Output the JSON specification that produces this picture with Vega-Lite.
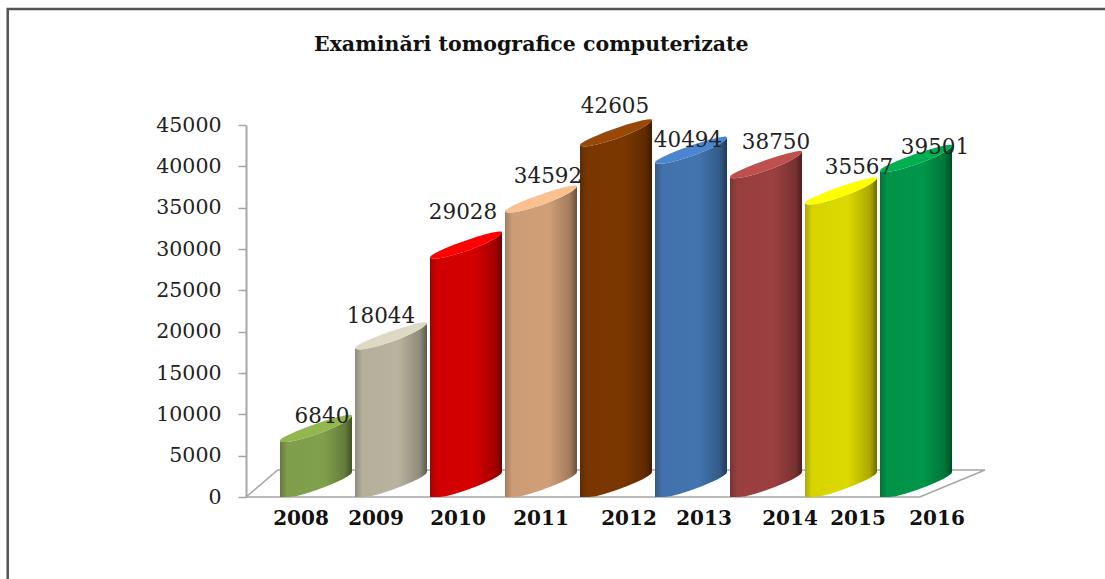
{
"$schema":"https://vega.github.io/schema/vega-lite/v6.json",
"width":739,"height":372,
"padding":{"left":246,"top":125,"right":120,"bottom":82},
"autosize":{"type":"none"},
"background":"white",
"title":{"text":"Examinări  tomografice computerizate","anchor":"start","frame":"group","dx":68,"offset":-51,"font":"DejaVu Serif","fontSize":20.5,"fontWeight":"bold","color":"#111"},
"config":{"view":{"stroke":null}},
"datasets":{
"bars":[{"year":2008,"value":6840},{"year":2009,"value":18044},{"year":2010,"value":29028},{"year":2011,"value":34592},{"year":2012,"value":42605},{"year":2013,"value":40494},{"year":2014,"value":38750},{"year":2015,"value":35567},{"year":2016,"value":39501}],
"floor":[{"px":2007.547,"py":0},{"px":2016.53,"py":0},{"px":2017.40,"py":3266},{"px":2007.97,"py":3266},{"px":2007.547,"py":0}],
"frame":[{"px":2004.37,"py":-9919},{"px":2004.37,"py":59032},{"px":2019.0,"py":59032}]
},
"data":{"name":"bars"},
"resolve":{"scale":{"color":"independent"}},
"layer":[
{"data":{"name":"frame"},"mark":{"type":"line","color":"#555","strokeWidth":2.5,"clip":false},
 "encoding":{"x":{"field":"px","type":"quantitative","sort":null,"scale":{"domain":[2007.547,2017.4],"nice":false,"zero":false},"axis":null},"y":{"field":"py","type":"quantitative","scale":{"domain":[0,45000],"nice":false},"axis":{"values":[0,5000,10000,15000,20000,25000,30000,35000,40000,45000],"format":"d","title":null,"grid":false,"domainColor":"#a6a6a6","domainWidth":2,"tickColor":"#a6a6a6","tickWidth":1.5,"tickSize":8,"labelFont":"DejaVu Serif","labelFontSize":20.5,"labelColor":"#222","labelPadding":17}},"order":{"field":"py","aggregate":null,"type":"quantitative","sort":"ascending"}}},
{"data":{"name":"floor"},"mark":{"type":"line","color":"#a6a6a6","strokeWidth":1.6,"clip":false},
 "encoding":{"x":{"field":"px","type":"quantitative"},"y":{"field":"py","type":"quantitative"},"order":{"field":"idx"}},
 "transform":[{"window":[{"op":"row_number","as":"idx"}]}]},
{"transform":[{"calculate":"[0,0.01,0.03,0.07,0.13,0.22,0.35,0.5,0.65,0.78,0.87,0.93,0.97,0.99,1]","as":"t"},{"flatten":["t"]},{"calculate":"datum.year+0.96*datum.t","as":"bx"},{"calculate":"sqrt(4*datum.t*(1-datum.t))","as":"arc"},{"calculate":"3024*datum.t","as":"rise"},{"calculate":"max(0,datum.rise-700*datum.arc)","as":"bottom"},{"calculate":"datum.value+datum.rise-800*datum.arc","as":"front"},{"calculate":"datum.value+datum.rise+500*datum.arc","as":"back"}],
 "layer":[
 {"mark":{"type":"area","clip":false},"encoding":{"x":{"field":"bx","type":"quantitative"},"y":{"field":"front","type":"quantitative","stack":null},"y2":{"field":"bottom"},
  "color":{"field":"year","type":"nominal","legend":null,"scale":{"domain":[2008,2009,2010,2011,2012,2013,2014,2015,2016],"range":["#81a04c","#b7b39e","#d40000","#d09f78","#7b3700","#4274ae","#9b4040","#dcd800","#00964a"]}}}},
 {"mark":{"type":"area","clip":false,"color":{"gradient":"linear","x1":0,"x2":1,"y1":0,"y2":0,"stops":[{"offset":0,"color":"rgba(0,0,0,0.22)"},{"offset":0.1,"color":"rgba(0,0,0,0.02)"},{"offset":0.6,"color":"rgba(0,0,0,0)"},{"offset":0.9,"color":"rgba(0,0,0,0.22)"},{"offset":1,"color":"rgba(0,0,0,0.5)"}]}},
  "encoding":{"x":{"field":"bx","type":"quantitative"},"y":{"field":"front","type":"quantitative","stack":null},"y2":{"field":"bottom"},"detail":{"field":"year"}}},
 {"mark":{"type":"area","clip":false},"encoding":{"x":{"field":"bx","type":"quantitative"},"y":{"field":"back","type":"quantitative","stack":null},"y2":{"field":"front"},
  "color":{"field":"year","type":"nominal","legend":null,"scale":{"domain":[2008,2009,2010,2011,2012,2013,2014,2015,2016],"range":["#93b64f","#ddd9c3","#ff0000","#fac090","#984807","#4a86d0","#c0504d","#ffff00","#00b050"]}}}}
 ],
 "resolve":{"scale":{"color":"independent"}}
},
{"transform":[{"calculate":"datum.year+0.48+[6,-10,-3,7,-1,-3,10,18,19][datum.year-2008]/75","as":"lx"},{"calculate":"datum.value+120.97*[23,31,44,34,38,21,34,35,22][datum.year-2008]","as":"ly"}],
 "mark":{"type":"text","font":"DejaVu Serif","fontSize":21.5,"color":"#222","baseline":"middle","clip":false},
 "encoding":{"x":{"field":"lx","type":"quantitative"},"y":{"field":"ly","type":"quantitative"},"text":{"field":"value","type":"nominal"}}},
{"transform":[{"calculate":"datum.year+0.48+[-15,-15,-8,0,13,13,24,17,21][datum.year-2008]/75","as":"lx"},{"calculate":"-22*120.97","as":"ly"}],
 "mark":{"type":"text","font":"DejaVu Serif","fontSize":20,"fontWeight":"bold","color":"#111","baseline":"middle","clip":false},
 "encoding":{"x":{"field":"lx","type":"quantitative"},"y":{"field":"ly","type":"quantitative"},"text":{"field":"year","type":"nominal"}}}
]
}
